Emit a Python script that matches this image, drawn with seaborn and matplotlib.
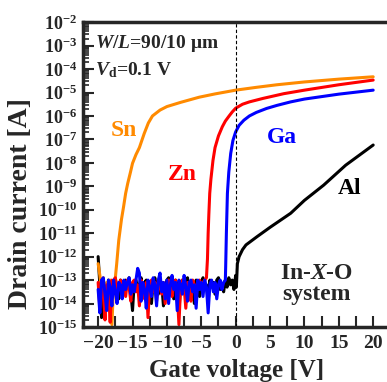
import numpy as np
import pandas as pd
import matplotlib
matplotlib.use('Agg')
import matplotlib.pyplot as plt
import matplotlib.ticker as mticker
import seaborn as sns

# off-state noise (log10 of current), 0.25 V steps
al_noise = [-12.0, -13.2, -14.6, -13.1, -13.5, -14.2, -13.0, -13.3, -14.0, -13.1, -12.9, -13.4,
            -13.8, -13.0, -13.2, -13.6, -13.0, -13.3, -12.9, -13.5, -14.3, -13.1, -13.0, -13.4,
            -13.2, -12.9, -13.7, -13.1, -13.0, -13.5, -13.2, -14.0, -13.1, -12.9, -13.3, -13.6,
            -13.0, -13.2, -14.1, -13.3, -13.0, -12.9, -13.4, -13.1, -13.8, -13.0, -13.2, -14.4,
            -13.1, -13.0, -13.5, -13.2, -12.9, -13.6, -13.1, -13.3, -14.0, -13.0, -13.2, -13.7,
            -13.1, -12.9, -13.4, -13.2, -13.9, -13.0, -13.3, -13.1, -13.6, -13.0, -12.9, -13.4,
            -13.2, -13.5, -13.0, -13.3, -12.9, -13.2, -13.0, -13.4, -12.8]
zn_noise = [-13.1, -14.2, -13.0, -13.6, -14.7, -13.2, -13.5, -14.8, -13.0, -13.3, -12.9, -13.6,
            -13.2, -13.0, -13.4, -13.1, -13.7, -13.0, -13.3, -13.9, -13.1, -13.0, -13.5, -13.2,
            -14.1, -13.0, -13.4, -13.8, -13.1, -14.6, -13.2, -13.0, -13.5, -13.1, -13.9, -13.0,
            -13.3, -13.6, -13.1, -14.0, -13.2, -13.0, -13.4, -13.7, -13.1, -13.0, -13.5, -14.9,
            -13.2, -13.0, -13.3, -14.2, -13.1, -13.4, -13.9, -13.0, -13.2, -13.6, -13.1, -13.0,
            -13.3, -13.1, -13.0, -12.9]
ga_noise = [-13.4, -14.4, -13.0, -12.9, -13.6, -14.3, -13.0, -13.3, -14.1, -13.0, -13.5, -14.0,
            -13.1, -13.2, -13.8, -13.0, -13.4, -13.1, -12.9, -13.6, -13.2, -13.5, -13.0, -12.5,
            -12.7, -13.9, -13.1, -13.4, -14.2, -13.0, -13.3, -13.7, -12.9, -13.2, -14.1, -13.0,
            -12.7, -13.5, -13.1, -13.8, -13.0, -14.0, -13.2, -12.8, -13.4, -13.1, -14.3, -13.0,
            -13.2, -13.6, -12.8, -13.3, -13.9, -13.1, -13.0, -13.5, -13.2, -14.2, -13.0, -13.4,
            -13.1, -13.7, -13.0, -13.3, -14.4, -13.2, -13.0, -13.5, -13.1, -13.8, -13.2, -13.0,
            -13.4, -13.1, -13.0]
sn_noise = [-12.3, -12.8, -13.4, -12.9, -14.0, -13.1, -13.3, -13.0, -14.9, -13.2, -12.9]

# on-state part (gate voltage, log10 current)
sn_vg = [-17.3, -17.0, -16.6, -16.3, -16.0, -15.7, -15.3, -15.0, -14.5, -14.0, -13.3, -12.7,
         -12.1, -11.0, -10.0, -8.0, -5.3, -3.0, 0.0, 3.0, 6.0, 10.0, 15.0, 20.0]
sn_log = [-12.3, -11.3, -10.4, -9.87, -9.3, -8.88, -8.4, -8.02, -7.65, -7.35, -6.75, -6.3,
          -6.0, -5.75, -5.6, -5.42, -5.2, -5.06, -4.9, -4.78, -4.67, -4.55, -4.43, -4.33]
zn_vg = [-4.1, -4.0, -3.9, -3.77, -3.6, -3.3, -3.0, -2.5, -1.94, -1.5, -1.0, -0.5, 0.0,
         1.0, 2.0, 4.0, 7.0, 10.0, 15.0, 20.0]
zn_log = [-12.1, -11.0, -10.2, -9.3, -8.7, -7.9, -7.35, -6.85, -6.46, -6.22, -6.02, -5.83, -5.67,
          -5.5, -5.4, -5.25, -5.05, -4.9, -4.67, -4.47]
ga_vg = [-1.45, -1.35, -1.2, -1.0, -0.72, -0.4, 0.0, 0.5, 1.2, 2.0, 3.0, 4.5, 6.0, 8.0, 10.0, 15.0, 20.0]
ga_log = [-12.4, -11.0, -9.3, -8.4, -7.6, -7.05, -6.68, -6.4, -6.18, -6.0, -5.85, -5.68, -5.55,
          -5.4, -5.28, -5.07, -4.9]
al_vg = [0.1, 0.25, 0.5, 1.0, 1.5, 3.1, 5.0, 8.0, 10.0, 12.8, 16.0, 20.0]
al_log = [-13.3, -12.3, -12.0, -11.7, -11.5, -11.15, -10.75, -10.15, -9.6, -8.95, -8.1, -7.24]


def build(noise, start, stop, vg, logi, name):
    x = list(np.linspace(start, stop, len(noise))) + vg
    y = list(10.0 ** np.array(noise + logi))
    return pd.DataFrame({'vg': x, 'id': y, 'film': name})


df = pd.concat([
    build(al_noise, -20, 0, al_vg, al_log, 'Al'),
    build(sn_noise, -20, -17.5, sn_vg, sn_log, 'Sn'),
    build(zn_noise, -20, -4.25, zn_vg, zn_log, 'Zn'),
    build(ga_noise, -20, -1.5, ga_vg, ga_log, 'Ga'),
])

colors = {'Al': 'black', 'Sn': '#ff8a00', 'Zn': '#ff0000', 'Ga': '#0000ff'}

sns.set_style('ticks')
plt.rcParams['font.family'] = ['Liberation Serif', 'DejaVu Serif']
plt.rcParams['font.weight'] = 'bold'
plt.rcParams['mathtext.fontset'] = 'custom'
plt.rcParams['mathtext.rm'] = 'Liberation Serif:bold'
plt.rcParams['mathtext.bf'] = 'Liberation Serif:bold'
plt.rcParams['mathtext.it'] = 'Liberation Serif:italic:bold'

fig = plt.figure(figsize=(3.87, 3.82), dpi=100)
ax = fig.add_axes([0.2145, 0.144, 0.78, 0.798])

for name in ['Al', 'Sn', 'Zn', 'Ga']:
    sns.lineplot(data=df[df['film'] == name], x='vg', y='id', color=colors[name],
                 lw=2.2, sort=False, estimator=None, ax=ax, legend=False)

ax.axvline(0, color='black', lw=0.8, ls=(0, (3, 2)))

ax.set_yscale('log')
ax.set_ylim(1e-15, 1e-2)
ax.set_xlim(-22.2, 21.7)
ax.yaxis.set_major_locator(mticker.LogLocator(base=10, numticks=20))
ax.yaxis.set_minor_locator(mticker.LogLocator(base=10, subs=np.arange(2, 10), numticks=20))
ax.yaxis.set_minor_formatter(mticker.NullFormatter())
ax.yaxis.set_major_formatter(mticker.FuncFormatter(lambda v, p: r'$\mathbf{10^{%d}}$' % round(np.log10(v))))
ax.xaxis.set_major_locator(mticker.MultipleLocator(5))
ax.xaxis.set_minor_locator(mticker.MultipleLocator(2.5))
ax.tick_params(axis='both', which='major', direction='in', length=8, width=1.5, pad=4)
ax.tick_params(axis='y', which='major', labelsize=13)
ax.tick_params(axis='x', which='major', labelsize=14, pad=6)
ax.tick_params(axis='both', which='minor', direction='in', length=4, width=1.2)
ax.tick_params(axis='x', which='minor', length=8, width=1.5)
ax.tick_params(top=False, right=False, which='both')
for s in ['left', 'bottom', 'top']:
    ax.spines[s].set_linewidth(2.5)
ax.spines['right'].set_visible(False)

ax.set_xlabel('Gate voltage [V]', fontsize=18, fontweight='bold')
ax.set_ylabel('Drain current [A]', fontsize=20, fontweight='bold')
ax.yaxis.set_label_coords(-0.165, 0.405)
ax.xaxis.set_label_coords(0.508, -0.105)

ax.text(-20.4, 10 ** -2.9, r'$\mathit{W}$/$\mathit{L}$=90/10 μm', fontsize=14, va='center', ha='left')
ax.text(-20.4, 10 ** -4.05, r'$\mathit{V}_\mathbf{d}$=0.1 V', fontsize=14, va='center', ha='left')
ax.text(-16.2, 10 ** -6.6, 'Sn', color=colors['Sn'], fontsize=17, ha='center', va='center')
ax.text(-7.8, 10 ** -8.5, 'Zn', color=colors['Zn'], fontsize=17, ha='center', va='center')
ax.text(6.7, 10 ** -6.9, 'Ga', color=colors['Ga'], fontsize=17, ha='center', va='center')
ax.text(16.6, 10 ** -9.1, 'Al', color='black', fontsize=17, ha='center', va='center')
ax.text(11.8, 10 ** -13.15, 'In-$\\mathit{X}$-O\nsystem', fontsize=17, ha='center', va='center',
        linespacing=1.0)

fig.savefig('out.png', dpi=100)
